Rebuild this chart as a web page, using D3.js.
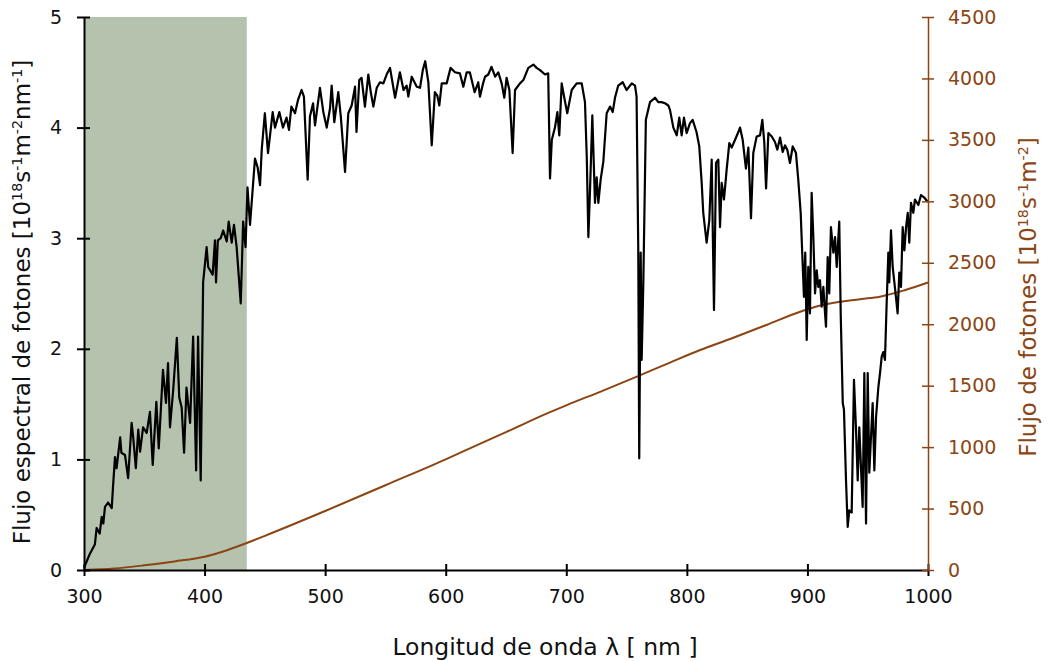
<!DOCTYPE html>
<html>
<head>
<meta charset="utf-8">
<script src="https://cdn.jsdelivr.net/npm/d3@7"></script>
<style>
  body { margin: 0; background: #fff; }
  svg { font-family: "DejaVu Sans", sans-serif; }
</style>
</head>
<body>
<div id="chart"></div>
<script>
// spectral photon flux
const spectrumNm = [300, 305, 309, 310.5, 313, 314.7, 316, 317.4, 320, 323, 324, 325.7, 327, 330, 331, 334, 336.6, 339.5, 340.8, 343, 345, 346.5, 349, 352, 354.7, 357, 360, 362, 365.5, 368, 369.7, 371.3, 374, 377, 379, 381, 383, 385, 388, 390.5, 393, 394.6, 396.8, 398.8, 401.7, 403, 406.7, 408.6, 409.5, 411, 413.4, 415.4, 418.4, 420, 422.5, 424.4, 426.6, 430, 432, 434, 435.6, 437.7, 441.8, 444, 446, 447.4, 450, 452.6, 456.5, 458.4, 462, 465, 468, 470, 472, 475, 477.5, 480.5, 482.4, 485.5, 487.4, 490, 491.6, 495.7, 498.5, 501.3, 504, 505.4, 507.6, 510.9, 513, 516.5, 519.2, 522, 524.8, 526, 528.3, 530.2, 533, 535.8, 538, 540, 542.8, 545.5, 548.3, 551, 553.8, 558, 562, 565, 567.6, 569, 571.8, 576, 578.7, 581, 583, 585.6, 588.4, 591, 593, 594.7, 596.7, 600.8, 604, 607.7, 611.8, 614.6, 617.4, 620, 624, 627, 628.4, 631, 632.6, 635.3, 638, 641, 643.6, 646.4, 648.6, 650.5, 652.8, 655.5, 657.5, 661.6, 664.4, 668.5, 672.7, 675.4, 678.2, 682.4, 685, 686.5, 688, 690.6, 692.6, 694.2, 696.2, 698, 700.8, 704.5, 708.6, 712.8, 715.5, 717, 718.3, 719.7, 721.6, 723.8, 725.2, 726.6, 728.5, 730.7, 733.5, 736.3, 738.5, 740.4, 743.1, 746.8, 750, 754.3, 757, 758.3, 759.7, 760.5, 761.7, 762.5, 763.9, 766, 769.4, 773.6, 776.3, 779, 781.9, 784.6, 786, 788.8, 791.6, 793.7, 795.7, 797.6, 799.8, 802.6, 804.8, 808, 810.3, 812.3, 813.6, 816.4, 818.6, 820.6, 822.5, 824.2, 826.1, 827.5, 828.9, 830.8, 833, 835.2, 837.2, 840, 842.7, 844.1, 846.3, 849, 851, 853.2, 855.1, 857.9, 860.7, 862.6, 864.2, 865.7, 867.6, 870.4, 873.1, 875, 877.3, 879.5, 881.4, 883.3, 885.5, 887.8, 890.5, 892.4, 894.4, 896, 897.1, 898.2, 899.4, 900.7, 902.1, 903.5, 904.9, 906.3, 907.7, 909, 910.4, 911.8, 913.2, 914.6, 915.4, 916.8, 918.1, 919.5, 921.5, 922.9, 924.3, 926.4, 927.6, 929.3, 930.3, 932, 933.4, 934.7, 936.7, 938.6, 940.3, 941.7, 943, 944.4, 945.8, 947.2, 948.6, 950, 951.3, 952.7, 954.1, 955.5, 956.9, 958.8, 960.2, 961.6, 962.9, 964.3, 965.7, 967.1, 967.9, 969.3, 970.7, 972.1, 973.4, 974.8, 976.2, 977.6, 979, 980.4, 981.8, 983.2, 984.5, 985.9, 987.8, 989.2, 992, 994.2, 996.7, 999.7];
const spectrumFlux = [0.02, 0.15, 0.23, 0.38, 0.33, 0.48, 0.42, 0.57, 0.61, 0.56, 0.74, 1.02, 0.92, 1.2, 1.06, 1.04, 0.83, 1.33, 1.2, 0.92, 1.27, 1.07, 1.29, 1.24, 1.43, 0.95, 1.52, 1.1, 1.81, 1.51, 1.87, 1.29, 1.63, 2.1, 1.56, 1.47, 1.06, 1.65, 1.33, 2.11, 0.9, 2.11, 0.81, 2.6, 2.92, 2.74, 2.67, 2.98, 2.6, 2.98, 3.0, 3.07, 2.97, 3.15, 2.96, 3.12, 2.92, 2.41, 3.15, 2.92, 3.46, 3.12, 3.72, 3.64, 3.48, 3.8, 4.13, 3.77, 4.14, 4.0, 4.14, 4.0, 4.09, 3.98, 4.19, 4.13, 4.25, 4.34, 4.28, 3.53, 4.1, 4.22, 4.02, 4.36, 4.14, 4.0, 4.17, 4.38, 4.05, 4.32, 4.1, 3.6, 4.13, 4.2, 4.37, 3.96, 4.43, 4.45, 4.19, 4.48, 4.31, 4.19, 4.36, 4.41, 4.4, 4.48, 4.54, 4.27, 4.5, 4.34, 4.38, 4.28, 4.46, 4.37, 4.36, 4.52, 4.6, 4.41, 3.84, 4.32, 4.29, 4.2, 4.4, 4.4, 4.54, 4.5, 4.49, 4.37, 4.5, 4.5, 4.32, 4.41, 4.28, 4.4, 4.46, 4.48, 4.55, 4.46, 4.5, 4.4, 4.27, 4.45, 4.34, 3.77, 4.34, 4.4, 4.43, 4.54, 4.57, 4.54, 4.52, 4.48, 4.49, 3.54, 3.89, 4.0, 4.14, 3.93, 4.4, 4.29, 4.13, 4.34, 4.4, 4.4, 4.23, 3.73, 3.01, 3.44, 4.11, 3.32, 3.55, 3.32, 3.53, 3.69, 4.13, 4.19, 4.14, 4.27, 4.38, 4.41, 4.34, 4.4, 4.38, 4.28, 2.89, 1.01, 2.87, 1.9, 2.6, 4.07, 4.23, 4.27, 4.23, 4.23, 4.22, 4.2, 4.16, 4.0, 3.93, 4.09, 3.93, 4.09, 3.95, 4.04, 4.07, 3.96, 3.83, 3.5, 3.23, 2.96, 3.16, 3.71, 2.35, 3.68, 3.71, 3.1, 3.5, 3.35, 3.62, 3.86, 3.82, 3.89, 3.96, 4.0, 3.89, 3.63, 3.82, 3.18, 3.77, 3.92, 3.93, 4.07, 3.87, 3.45, 3.95, 3.92, 3.87, 3.8, 3.91, 3.78, 3.84, 3.8, 3.68, 3.83, 3.77, 3.53, 3.23, 2.78, 2.47, 2.87, 2.08, 2.74, 2.32, 3.41, 3.01, 2.5, 2.71, 2.56, 2.62, 2.38, 2.56, 2.32, 2.2, 2.83, 2.5, 3.1, 2.87, 3.01, 2.74, 3.15, 2.32, 1.51, 1.45, 0.81, 0.39, 0.54, 0.52, 1.72, 1.27, 0.81, 1.29, 0.93, 0.57, 1.78, 0.42, 1.78, 0.88, 1.2, 1.51, 0.9, 1.38, 1.65, 1.78, 1.93, 1.97, 1.9, 2.41, 2.87, 2.6, 3.07, 2.74, 2.6, 2.47, 2.32, 2.69, 2.56, 3.1, 2.89, 3.1, 3.23, 2.96, 3.32, 3.23, 3.35, 3.3, 3.39, 3.37, 3.33];

// cumulative photon flux (right axis)
const totalNm = [300, 325, 350, 375, 400, 435, 450, 500, 550, 600, 620, 650, 686, 700, 730, 760, 786, 811, 838, 866, 894, 910, 927, 945, 960, 980, 1000];
const totalFlux = [0, 12, 38, 70, 108, 220, 278, 480, 690, 900, 990, 1122, 1282, 1340, 1458, 1580, 1688, 1790, 1888, 1994, 2102, 2150, 2183, 2205, 2224, 2275, 2340];

const shadedRange = [300, 435];
const xTicks = [300, 400, 500, 600, 700, 800, 900, 1000];
const leftTicks = [0, 1, 2, 3, 4, 5];
const rightTicks = [0, 500, 1000, 1500, 2000, 2500, 3000, 3500, 4000, 4500];

const W = 1049, H = 661;
const margin = { top: 17, right: 121, bottom: 91, left: 84 };
const brown = '#8b4513';

const svg = d3.select('#chart').append('svg')
  .attr('width', W)
  .attr('height', H);

const x = d3.scaleLinear().domain([300, 1000]).range([margin.left, W - margin.right]);
const yL = d3.scaleLinear().domain([0, 5]).range([H - margin.bottom, margin.top]);
const yR = d3.scaleLinear().domain([0, 4500]).range([H - margin.bottom, margin.top]);

// shaded band
svg.append('rect')
  .attr('x', x(shadedRange[0]))
  .attr('y', yL(5))
  .attr('width', x(shadedRange[1]) - x(shadedRange[0]))
  .attr('height', yL(0) - yL(5))
  .attr('fill', '#b5c3ae');

const spectrum = spectrumNm.map((d, i) => ({ nm: d, v: spectrumFlux[i] }));
const total = totalNm.map((d, i) => ({ nm: d, v: totalFlux[i] }));

svg.append('path')
  .datum(total)
  .attr('fill', 'none')
  .attr('stroke', brown)
  .attr('stroke-width', 2)
  .attr('d', d3.line().x(d => x(d.nm)).y(d => yR(d.v)).curve(d3.curveMonotoneX));

svg.append('path')
  .datum(spectrum)
  .attr('fill', 'none')
  .attr('stroke', '#000')
  .attr('stroke-width', 2.2)
  .attr('stroke-linejoin', 'round')
  .attr('d', d3.line().x(d => x(d.nm)).y(d => yL(d.v)));

// axes
const fmt = d3.format('d');
const xAxis = svg.append('g')
  .attr('transform', `translate(0,${yL(0)})`)
  .call(d3.axisBottom(x).tickValues(xTicks).tickFormat(fmt).tickSize(6).tickPadding(14).tickSizeOuter(0));
xAxis.selectAll('.tick line').attr('y1', -6).attr('stroke-width', 2);
xAxis.select('.domain').attr('stroke-width', 2);

const leftAxis = svg.append('g')
  .attr('transform', `translate(${x(300)},0)`)
  .call(d3.axisLeft(yL).tickValues(leftTicks).tickFormat(fmt).tickSize(7).tickPadding(15).tickSizeOuter(0));
leftAxis.selectAll('.tick line').attr('x1', 6).attr('stroke-width', 2);
leftAxis.select('.domain').attr('stroke-width', 2);

const rightAxis = svg.append('g')
  .attr('transform', `translate(${x(1000)},0)`)
  .call(d3.axisRight(yR).tickValues(rightTicks).tickFormat(fmt).tickSize(6).tickPadding(14).tickSizeOuter(0));
rightAxis.selectAll('.tick line').attr('x1', -6).attr('stroke', brown).attr('stroke-width', 1.5);
rightAxis.select('.domain').attr('stroke', brown).attr('stroke-width', 1.5);
rightAxis.selectAll('.tick text').attr('fill', brown);

svg.selectAll('.tick text').attr('font-size', 19).attr('font-family', '"DejaVu Sans", sans-serif');
xAxis.selectAll('.tick text').attr('fill', '#111');
leftAxis.selectAll('.tick text').attr('fill', '#111');

// titles
svg.append('text')
  .attr('x', 545)
  .attr('y', 655)
  .attr('text-anchor', 'middle')
  .attr('font-size', 23.5)
  .attr('fill', '#111')
  .text('Longitud de onda λ [ nm ]');

function titleWithUnits(g, parts) {
  parts.forEach(p => {
    const t = g.append('tspan').text(p[0]);
    if (p[1]) t.attr('baseline-shift', 'super').attr('font-size', '62%');
  });
}

const leftTitle = svg.append('text')
  .attr('transform', `translate(30,302) rotate(-90)`)
  .attr('text-anchor', 'middle')
  .attr('font-size', 23)
  .attr('fill', '#111');
titleWithUnits(leftTitle, [['Flujo espectral de fotones [10'], ['18', true], ['s'], ['-1', true], ['m'], ['-2', true], ['nm'], ['-1', true], [']']]);

const rightTitle = svg.append('text')
  .attr('transform', `translate(1036,297) rotate(-90)`)
  .attr('text-anchor', 'middle')
  .attr('font-size', 23)
  .attr('fill', brown);
titleWithUnits(rightTitle, [['Flujo de fotones [10'], ['18', true], ['s'], ['-1', true], ['m'], ['-2', true], [']']]);
</script>
</body>
</html>
